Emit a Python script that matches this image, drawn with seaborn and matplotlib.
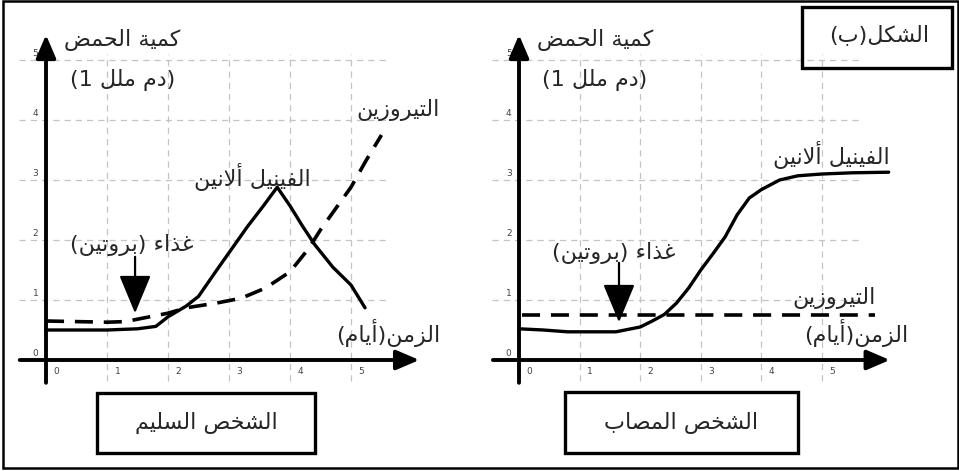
import matplotlib
matplotlib.use("Agg")
import matplotlib.pyplot as plt
from matplotlib.patches import Rectangle
import seaborn as sns
import pandas as pd

# ---------------------------------------------------------------
# data
# ---------------------------------------------------------------
healthy_phe_x = [0, 0.5, 1.0, 1.5, 1.8, 2.0, 2.3, 2.5, 2.8, 3.05, 3.3, 3.55, 3.79, 4.0, 4.2, 4.4, 4.7, 5.0, 5.23]
healthy_phe_y = [0.5, 0.5, 0.5, 0.52, 0.56, 0.72, 0.9, 1.06, 1.5, 1.86, 2.22, 2.55, 2.88, 2.57, 2.24, 1.93, 1.55, 1.25, 0.87]
healthy_tyr_x = [0, 0.5, 1.0, 1.3, 1.6, 2.0, 2.3, 2.8, 3.2, 3.6, 4.0, 4.3, 4.5, 5.0, 5.25, 5.5]
healthy_tyr_y = [0.65, 0.64, 0.63, 0.64, 0.7, 0.78, 0.87, 0.95, 1.03, 1.2, 1.47, 1.85, 2.17, 2.88, 3.33, 3.75]

sick_phe_x = [0, 0.4, 0.8, 1.2, 1.6, 2.0, 2.2, 2.4, 2.6, 2.8, 3.0, 3.2, 3.4, 3.6, 3.8, 4.0, 4.3, 4.6, 5.0, 5.5, 6.1]
sick_phe_y = [0.52, 0.5, 0.47, 0.47, 0.47, 0.55, 0.65, 0.76, 0.95, 1.2, 1.5, 1.77, 2.05, 2.42, 2.7, 2.84, 3.0, 3.07, 3.1, 3.12, 3.13]
sick_tyr_x = [0.05, 1, 2, 3, 4, 5, 5.87]
sick_tyr_y = [0.75, 0.75, 0.75, 0.75, 0.75, 0.75, 0.75]

grid_ticks = [1, 2, 3, 4, 5]
tick_labels = ["0", "1", "2", "3", "4", "5"]

# ---------------------------------------------------------------
# minimal arabic shaping (matplotlib has no text shaping)
# ---------------------------------------------------------------
FORMS = {
    "ء": (0xFE80,) * 4,
    "أ": (0xFE83, 0xFE84, 0xFE83, 0xFE84),
    "ا": (0xFE8D, 0xFE8E, 0xFE8D, 0xFE8E),
    "ة": (0xFE93, 0xFE94, 0xFE93, 0xFE94),
    "د": (0xFEA9, 0xFEAA, 0xFEA9, 0xFEAA),
    "ذ": (0xFEAB, 0xFEAC, 0xFEAB, 0xFEAC),
    "ر": (0xFEAD, 0xFEAE, 0xFEAD, 0xFEAE),
    "ز": (0xFEAF, 0xFEB0, 0xFEAF, 0xFEB0),
    "و": (0xFEED, 0xFEEE, 0xFEED, 0xFEEE),
}
DUAL_BASE = {"ب": 0xFE8F, "ت": 0xFE95, "ح": 0xFEA1, "خ": 0xFEA5, "س": 0xFEB1,
             "ش": 0xFEB5, "ص": 0xFEB9, "ض": 0xFEBD, "غ": 0xFECD, "ف": 0xFED1,
             "ك": 0xFED9, "ل": 0xFEDD, "م": 0xFEE1, "ن": 0xFEE5, "ي": 0xFEF1}
for ch, b in DUAL_BASE.items():
    FORMS[ch] = (b, b + 1, b + 2, b + 3)
DUAL = set(DUAL_BASE)
LAMALEF = {"ا": (0xFEFB, 0xFEFC), "أ": (0xFEF7, 0xFEF8)}
MIRROR = {"(": ")", ")": "("}


def ar(s):
    out = []
    i = 0
    while i < len(s):
        c = s[i]
        if c not in FORMS:
            out.append(c)
            i += 1
            continue
        prev_joins = i > 0 and s[i - 1] in DUAL
        if c == "ل" and i + 1 < len(s) and s[i + 1] in LAMALEF:
            out.append(chr(LAMALEF[s[i + 1]][1 if prev_joins else 0]))
            i += 2
            continue
        next_joins = c in DUAL and i + 1 < len(s) and s[i + 1] in FORMS and s[i + 1] != "ء"
        iso, fin, ini, med = FORMS[c]
        if prev_joins and next_joins:
            code = med
        elif prev_joins:
            code = fin
        elif next_joins:
            code = ini
        else:
            code = iso
        out.append(chr(code))
        i += 1
    return "".join(MIRROR.get(c, c) for c in reversed(out))


sns.set_style("white")
plt.rcParams["font.family"] = ["DejaVu Sans"]

W, H = 959, 471
fig = plt.figure(figsize=(W / 100, H / 100), dpi=100)


def px_rect(x0, y0, x1, y1, lw):
    fig.add_artist(Rectangle((x0 / W, 1 - y1 / H), (x1 - x0) / W, (y1 - y0) / H,
                             transform=fig.transFigure, fill=False, lw=lw, ec="black"))


def make_panel(x0px, unit, phe_x, phe_y, tyr_x, tyr_y):
    xmin, xmax, ymin, ymax = -0.6, 6.3, -0.5, 5.6
    left = x0px + xmin * unit
    ax = fig.add_axes([left / W, (H - 390) / H, (xmax - xmin) * unit / W, 366 / H])
    ax.set_xlim(xmin, xmax)
    ax.set_ylim(ymin, ymax)
    ax.axis("off")
    for k in grid_ticks:
        ax.plot([k, k], [-0.35, 5.1], color="#c4c4c4", lw=0.9, ls=(0, (5, 4)), zorder=1)
        ax.plot([-0.45, 5.62], [k, k], color="#c4c4c4", lw=0.9, ls=(0, (5, 4)), zorder=1)
    for k, lab in enumerate(tick_labels):
        ax.text(k + 0.17, -0.2, lab, fontsize=6.5, color="#444444", ha="center", va="center")
        ax.text(-0.17, k + 0.1, lab, fontsize=6.5, color="#444444", ha="center", va="center")
    # axes with arrow heads
    ax.annotate("", xy=(0, 5.42), xytext=(0, -0.38),
                arrowprops=dict(arrowstyle="-|>,head_length=0.7,head_width=0.3", lw=2.8,
                                color="black", shrinkA=0, shrinkB=0, mutation_scale=20))
    ax.annotate("", xy=(6.12, 0), xytext=(-0.43, 0),
                arrowprops=dict(arrowstyle="-|>,head_length=0.7,head_width=0.3", lw=2.8,
                                color="black", shrinkA=0, shrinkB=0, mutation_scale=20))
    phe = pd.DataFrame({"t": phe_x, "v": phe_y})
    tyr = pd.DataFrame({"t": tyr_x, "v": tyr_y})
    sns.lineplot(data=phe, x="t", y="v", ax=ax, color="black", lw=2.4, zorder=3)
    sns.lineplot(data=tyr, x="t", y="v", ax=ax, color="black", lw=2.6,
                 linestyle=(0, (5, 3)), zorder=3)
    ax.text(1.25, 5.33, ar("كمية الحمض"), fontsize=fs, ha="center", va="center")
    ax.text(1.25, 4.67, "(1 " + ar("دم ملل") + ")", fontsize=fs, ha="center", va="center")
    return ax


fs = 16
axl = make_panel(46, 61, healthy_phe_x, healthy_phe_y, healthy_tyr_x, healthy_tyr_y)
axr = make_panel(519, 60.6, sick_phe_x, sick_phe_y, sick_tyr_x, sick_tyr_y)

# left panel annotations
axl.text(5.77, 4.17, ar("التيروزين"), fontsize=fs, ha="center", va="center")
axl.text(3.38, 3.05, ar("الفينيل ألانين"), fontsize=fs, ha="center", va="center")
axl.text(1.41, 1.92, ar("غذاء (بروتين)"), fontsize=fs, ha="center", va="center")
axl.text(5.61, 0.45, ar("الزمن(أيام)"), fontsize=fs, ha="center", va="center")
axl.annotate("", xy=(1.46, 0.78), xytext=(1.46, 1.72),
             arrowprops=dict(arrowstyle="-|>,head_length=1.2,head_width=0.5", lw=1.6,
                             color="black", shrinkA=0, shrinkB=0, mutation_scale=20))

# right panel annotations
axr.text(5.15, 3.42, ar("الفينيل ألانين"), fontsize=fs, ha="center", va="center")
axr.text(1.57, 1.78, ar("غذاء (بروتين)"), fontsize=fs, ha="center", va="center")
axr.text(5.2, 1.03, ar("التيروزين"), fontsize=fs, ha="center", va="center")
axr.text(5.56, 0.45, ar("الزمن(أيام)"), fontsize=fs, ha="center", va="center")
axr.annotate("", xy=(1.65, 0.63), xytext=(1.65, 1.62),
             arrowprops=dict(arrowstyle="-|>,head_length=1.2,head_width=0.5", lw=1.6,
                             color="black", shrinkA=0, shrinkB=0, mutation_scale=20))

# boxes and frame
px_rect(3, 1, 958, 468, 1.8)
px_rect(97, 393, 315, 453, 2.4)
px_rect(565, 392, 798, 453, 2.4)
px_rect(802, 7, 952, 68, 2.4)
fig.text(206 / W, 1 - 423 / H, ar("الشخص السليم"), fontsize=fs, ha="center", va="center")
fig.text(681 / W, 1 - 423 / H, ar("الشخص المصاب"), fontsize=fs, ha="center", va="center")
fig.text(879 / W, 1 - 35 / H, ar("الشكل(ب)"), fontsize=fs, ha="center", va="center")

fig.savefig("out.png", dpi=100)
